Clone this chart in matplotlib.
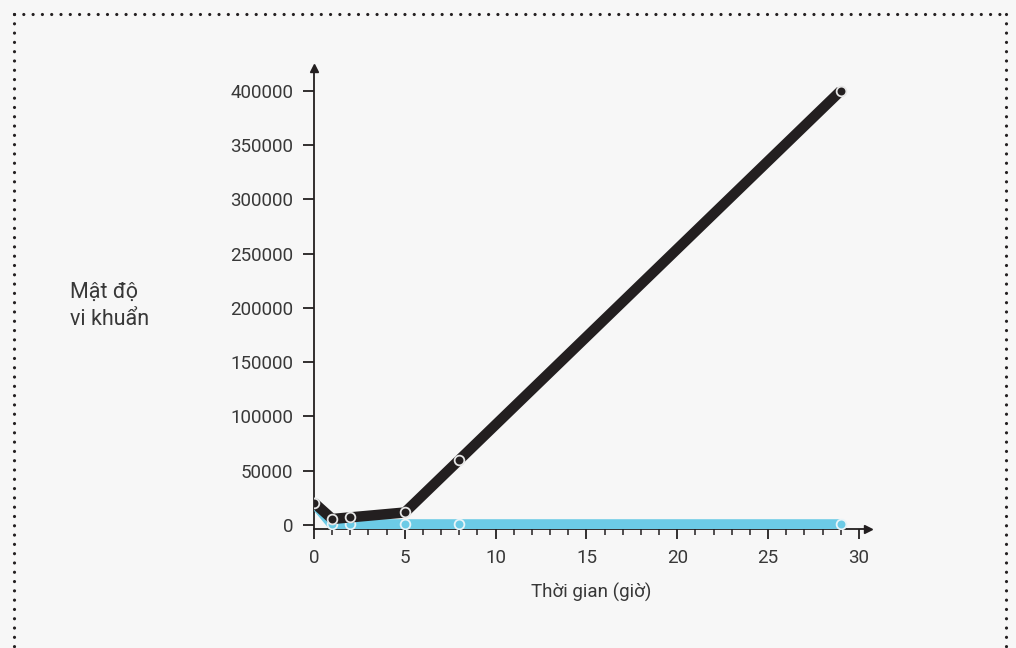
import matplotlib
matplotlib.use("Agg")
import matplotlib.pyplot as plt
from matplotlib.lines import Line2D

# Data
hours = [0, 1, 2, 5, 8, 29]
black_density = [20500, 5500, 7000, 11500, 60000, 400000]
blue_density = [20500, 500, 500, 500, 500, 500]
y_ticks = [0, 50000, 100000, 150000, 200000, 250000, 300000, 350000, 400000]
x_major = [0, 5, 10, 15, 20, 25, 30]
x_minor = list(range(0, 31))

plt.rcParams['font.family'] = ['Roboto', 'DejaVu Sans']

BG = '#f7f7f7'
TXT = '#383838'
fig = plt.figure(figsize=(10.16, 6.48), dpi=100, facecolor=BG)
ax = fig.add_axes([314/1016, 1-529.3/648, (868-314)/1016, (529.3-68)/648])
ax.set_facecolor(BG)

ax.plot(hours, blue_density, color='#6ccbe6', lw=7.5, solid_capstyle='butt', zorder=3,
        marker='o', ms=7, mfc='#6ccbe6', mec='#e8f4f8', mew=1.3)
ax.plot(hours, black_density, color='#231f20', lw=7.5, solid_capstyle='butt', zorder=4,
        marker='o', ms=7, mfc='#231f20', mec='#e6e6e6', mew=1.3)

ax.set_xlim(0, 30.5)
ax.set_ylim(-4000, 421000)

for s in ['top', 'right']:
    ax.spines[s].set_visible(False)
for s in ['left', 'bottom']:
    ax.spines[s].set_color('#231f20')
    ax.spines[s].set_linewidth(1.3)

ax.set_yticks(y_ticks)
ax.set_yticklabels([str(v) for v in y_ticks])
ax.set_xticks(x_major)
ax.set_xticks(x_minor, minor=True)
ax.tick_params(axis='y', length=8, width=1.3, color='#231f20', pad=7,
               labelsize=13.5, labelcolor=TXT)
ax.tick_params(axis='x', which='major', length=7.5, width=1.3, color='#231f20',
               pad=7, labelsize=13.5, labelcolor=TXT)
ax.tick_params(axis='x', which='minor', length=4, width=1.1, color='#231f20')

# Arrow heads
ax.plot([0], [1], marker='^', color='#231f20', ms=6, transform=ax.transAxes, clip_on=False)
ax.plot([1], [0], marker='>', color='#231f20', ms=6, transform=ax.transAxes, clip_on=False)

ax.set_xlabel('Thời gian (giờ)', fontsize=13.5, color=TXT, labelpad=11)
fig.text(70/1016, 1-306/648, 'Mật độ\nvi khuẩn', fontsize=15.5, color=TXT,
         ha='left', va='center', linespacing=1.35)

# Dotted border
def dotted(xs, ys):
    fig.add_artist(Line2D(xs, ys, transform=fig.transFigure, color='#231f20',
                          lw=2.3, linestyle=(0, (0.01, 2.9)), dash_capstyle='round'))
l, r, t = 14/1016, 1006/1016, 1-14/648
dotted([l, r], [t, t])
dotted([l, l], [t, 0])
dotted([r, r], [t, 0])

fig.savefig('out.png', dpi=100, facecolor=BG)
